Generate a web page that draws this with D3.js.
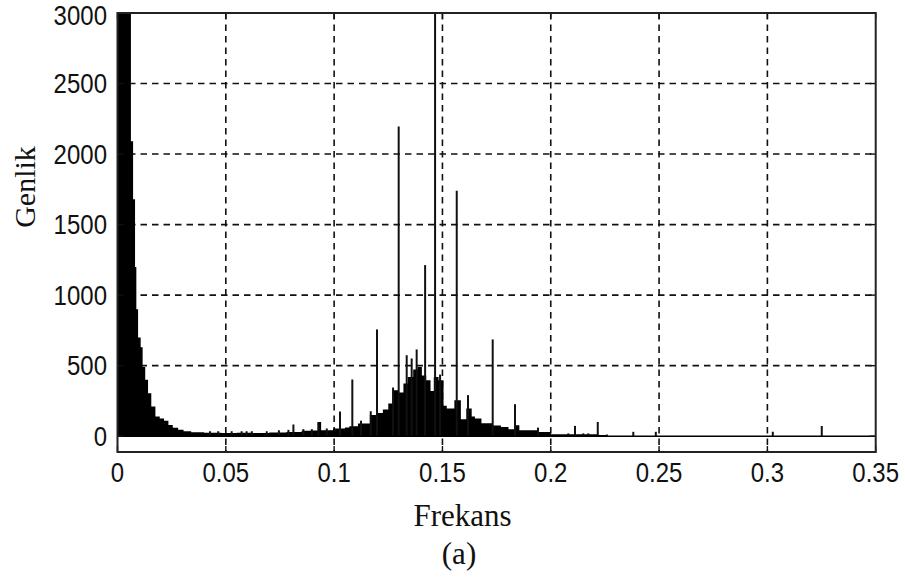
<!DOCTYPE html>
<html><head><meta charset="utf-8">
<script src="https://cdn.jsdelivr.net/npm/d3@7"></script>
<style>body{margin:0;background:#fff}</style>
</head><body><svg id="c" width="905" height="582"></svg>
<script>
// ---- data ----
const xTicks = [0, 0.05, 0.1, 0.15, 0.2, 0.25, 0.3, 0.35];
const xTickLabels = ["0", "0.05", "0.1", "0.15", "0.2", "0.25", "0.3", "0.35"];
const yTicks = [0, 500, 1000, 1500, 2000, 2500, 3000];
const yTickLabels = ["0", "500", "1000", "1500", "2000", "2500", "3000"];

// spectrum envelope (step start frequency, amplitude)
const envFreq = [0, 0.0062, 0.0072, 0.0081, 0.0087, 0.0095, 0.0107, 0.0116, 0.0128, 0.0141,
  0.0156, 0.0175, 0.0195, 0.0215, 0.0235, 0.0255, 0.028, 0.0305, 0.034, 0.04,
  0.048, 0.055, 0.062, 0.07, 0.078, 0.085, 0.09, 0.0925, 0.094, 0.0995,
  0.105, 0.107, 0.111, 0.1165, 0.12, 0.1225, 0.125, 0.127, 0.1295, 0.132,
  0.134, 0.1365, 0.1385, 0.1405, 0.1425, 0.1445, 0.146, 0.1482, 0.1505, 0.152,
  0.1555, 0.1585, 0.161, 0.1635, 0.165, 0.168, 0.173, 0.177, 0.1805, 0.1835,
  0.1855, 0.1945, 0.2, 0.222, 0.226, 0.35];
const envAmp = [9000, 2090, 1680, 1200, 900, 700, 630, 490, 400, 305,
  210, 140, 125, 110, 80, 60, 45, 35, 28, 24,
  22, 25, 22, 26, 30, 38, 40, 100, 42, 54,
  62, 70, 90, 150, 165, 190, 232, 326, 310, 374,
  420, 473, 490, 430, 397, 320, 420, 397, 215, 196,
  255, 120, 196, 140, 125, 92, 75, 66, 50, 78,
  43, 30, 14, 8, 0, 0];

// narrow spectral lines (frequency, amplitude)
const spikeFreq = [0.0427, 0.0465, 0.0527, 0.0573, 0.0596, 0.062, 0.0689, 0.0745, 0.0789, 0.0812,
  0.0858, 0.0897, 0.0927, 0.0966, 0.1027, 0.1084, 0.1124, 0.1169, 0.1198, 0.1272,
  0.1298, 0.1335, 0.1358, 0.1381, 0.142, 0.1466, 0.1489, 0.1566, 0.1618, 0.1732,
  0.1835, 0.1941, 0.2081, 0.2112, 0.215, 0.2173, 0.2217, 0.2259, 0.2381, 0.2485,
  0.3025, 0.3251];
const spikeAmp = [35, 35, 35, 35, 35, 35, 35, 42, 45, 83,
  50, 50, 100, 55, 175, 402, 110, 177, 757, 345,
  2195, 574, 551, 615, 1213, 3300, 437, 1740, 291, 686,
  227, 61, 20, 73, 20, 20, 101, 12, 31, 31,
  31, 73];

// ---- layout ----
const L = 117.5, R = 875.7, T = 13, B = 452;
const svg = d3.select("#c");
const x = d3.scaleLinear().domain([0, 0.35]).range([L, R]);
const y = d3.scaleLinear().domain([-112, 3000]).range([B, T]);

svg.append("defs").append("clipPath").attr("id", "clip")
  .append("rect").attr("x", L).attr("y", T).attr("width", R - L).attr("height", B - T);

// grid
const grid = svg.append("g").attr("stroke", "#111").attr("stroke-width", 1.6)
  .attr("stroke-dasharray", "6.5,5");
grid.selectAll(".gx").data(xTicks.slice(1, -1)).enter().append("line")
  .attr("x1", d => x(d)).attr("x2", d => x(d)).attr("y1", T).attr("y2", B);
grid.selectAll(".gy").data(yTicks.slice(1, -1)).enter().append("line")
  .attr("x1", L).attr("x2", R).attr("y1", d => y(d)).attr("y2", d => y(d));

const plot = svg.append("g").attr("clip-path", "url(#clip)");

// envelope
const env = envFreq.map((f, i) => [f, envAmp[i]]);
plot.append("path").datum(env)
  .attr("d", d3.area().curve(d3.curveStepAfter).x(d => x(d[0])).y0(y(0)).y1(d => y(d[1])))
  .attr("fill", "#000");

// spikes
const spikes = spikeFreq.map((f, i) => [f, spikeAmp[i]]);
plot.selectAll(".sp").data(spikes).enter().append("line")
  .attr("x1", d => x(d[0])).attr("x2", d => x(d[0]))
  .attr("y1", y(0)).attr("y2", d => y(d[1]))
  .attr("stroke", "#111").attr("stroke-width", 2);

// zero baseline
plot.append("line").attr("x1", L).attr("x2", R).attr("y1", y(0)).attr("y2", y(0))
  .attr("stroke", "#000").attr("stroke-width", 1.6);

// ticks (inside)
const tk = svg.append("g").attr("stroke", "#111").attr("stroke-width", 1.4);
xTicks.forEach(t => {
  tk.append("line").attr("x1", x(t)).attr("x2", x(t)).attr("y1", B).attr("y2", B - 6);
  tk.append("line").attr("x1", x(t)).attr("x2", x(t)).attr("y1", T).attr("y2", T + 6);
});
yTicks.forEach(t => {
  tk.append("line").attr("x1", L).attr("x2", L + 6).attr("y1", y(t)).attr("y2", y(t));
  tk.append("line").attr("x1", R).attr("x2", R - 6).attr("y1", y(t)).attr("y2", y(t));
});

// frame
svg.append("rect").attr("x", L).attr("y", T).attr("width", R - L).attr("height", B - T)
  .attr("fill", "none").attr("stroke", "#222").attr("stroke-width", 2);

// tick labels (tall, narrow digits like the reference)
const sans = "'Liberation Sans', Arial, sans-serif";
svg.selectAll(".xl").data(xTicks).enter().append("text")
  .attr("transform", d => `translate(${x(d)},482) scale(1,1.12)`).attr("text-anchor", "middle")
  .attr("font-family", sans).attr("font-size", 24).attr("fill", "#111")
  .text((d, i) => xTickLabels[i]);
svg.selectAll(".yl").data(yTicks).enter().append("text")
  .attr("transform", d => `translate(107,${Math.max(y(d) + 9.6, 24.5)}) scale(1,1.12)`).attr("text-anchor", "end")
  .attr("font-family", sans).attr("font-size", 24).attr("fill", "#111")
  .text((d, i) => yTickLabels[i]);

// titles
const serif = "'Liberation Serif', 'Times New Roman', serif";
svg.append("text").attr("x", 462.5).attr("y", 526).attr("text-anchor", "middle")
  .attr("font-family", serif).attr("font-size", 31).attr("fill", "#111").text("Frekans");
svg.append("text").attr("x", 459).attr("y", 564).attr("text-anchor", "middle")
  .attr("font-family", serif).attr("font-size", 31).attr("fill", "#111").text("(a)");
svg.append("text").attr("transform", "translate(35,187) rotate(-90)").attr("text-anchor", "middle")
  .attr("font-family", serif).attr("font-size", 30).attr("fill", "#111").text("Genlik");
</script></body></html>
